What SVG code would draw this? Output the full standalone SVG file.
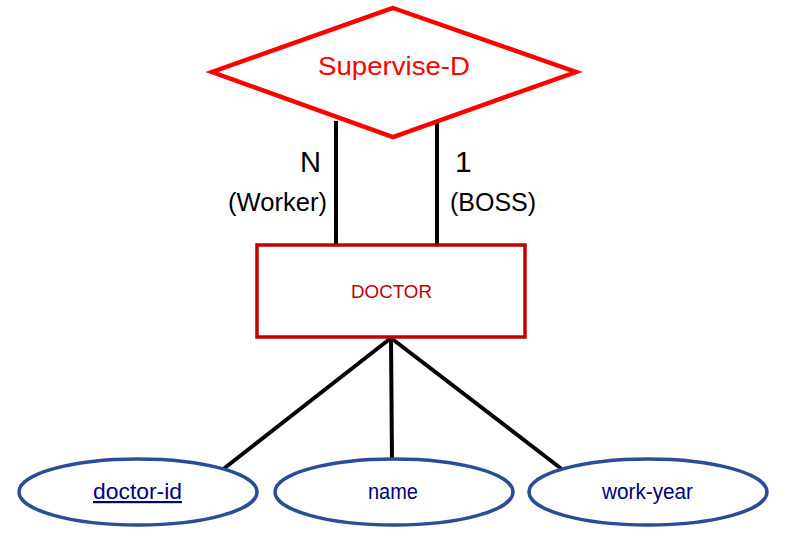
<svg xmlns="http://www.w3.org/2000/svg" width="791" height="544" viewBox="0 0 791 544">
<style>
.conn{stroke:#000;stroke-width:4;fill:none}
.attr{fill:#fff;stroke:#2a4d97;stroke-width:3.5}
.attrtxt{font-family:"Liberation Sans",Arial,sans-serif;font-size:22px;fill:#000080;text-anchor:middle}
.lbl{font-family:"Liberation Sans",Arial,sans-serif;fill:#000}
</style>
<rect width="791" height="544" fill="#fff"/>
<g id="connectors">
<line class="conn" x1="336" y1="121" x2="336" y2="245"/>
<line class="conn" x1="437" y1="121" x2="437" y2="245"/>
<line class="conn" x1="391" y1="338" x2="222" y2="470"/>
<line class="conn" x1="391" y1="338" x2="392" y2="461"/>
<line class="conn" x1="391" y1="338" x2="563" y2="470"/>
<text class="lbl" x="300" y="172" font-size="30" textLength="21" lengthAdjust="spacingAndGlyphs">N</text>
<text class="lbl" x="228" y="211" font-size="25" textLength="99" lengthAdjust="spacingAndGlyphs">(Worker)</text>
<text class="lbl" x="455" y="172" font-size="30">1</text>
<text class="lbl" x="450" y="211" font-size="25" textLength="86" lengthAdjust="spacingAndGlyphs">(BOSS)</text>
</g>
<g id="supervise-d">
<polygon points="393,8 576,72 393,137 212,72" fill="#fff" stroke="#ff0000" stroke-width="4.5" stroke-linejoin="miter"/>
<text x="318" y="75" font-family="'Liberation Sans',Arial,sans-serif" font-size="26" fill="#ff0000" textLength="152" lengthAdjust="spacingAndGlyphs">Supervise-D</text>
</g>
<g id="doctor">
<rect x="257" y="245" width="268" height="92" fill="#fff" stroke="#c00000" stroke-width="3.5"/>
<text x="351" y="298" font-family="'Liberation Sans',Arial,sans-serif" font-size="19" fill="#c00000" textLength="81" lengthAdjust="spacingAndGlyphs">DOCTOR</text>
</g>
<g id="doctor-id">
<ellipse class="attr" cx="138" cy="492" rx="119" ry="33"/>
<text class="attrtxt" x="137.5" y="499" text-decoration="underline" textLength="89" lengthAdjust="spacingAndGlyphs">doctor-id</text>
</g>
<g id="name">
<ellipse class="attr" cx="394" cy="492" rx="119" ry="33"/>
<text class="attrtxt" x="393" y="499" textLength="50" lengthAdjust="spacingAndGlyphs">name</text>
</g>
<g id="work-year">
<ellipse class="attr" cx="648" cy="492" rx="119" ry="33"/>
<text class="attrtxt" x="647.5" y="499" textLength="91" lengthAdjust="spacingAndGlyphs">work-year</text>
</g>
</svg>
